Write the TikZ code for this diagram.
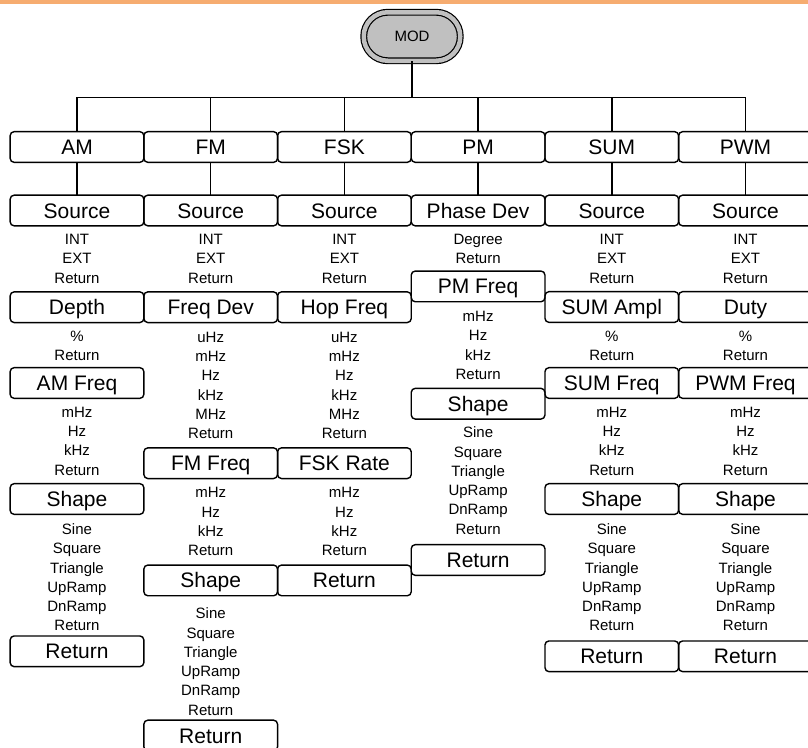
\documentclass[tikz,border=0pt]{standalone}
\usepackage{fontspec}
\setmainfont{Liberation Sans}
\definecolor{orangeline}{RGB}{246,172,112}
\definecolor{modgray}{RGB}{192,192,192}
\newcommand\optlist[4]{%
  \foreach \t [count=\i] in {#4} \node[sub] (#1\i) at (#2,{#3+5.4+19.3*(\i-1)}) {\t};}
\begin{document}
\begin{tikzpicture}[x=1pt,y=-1pt,
  box/.style={draw, line width=1.4pt, rounded corners=4pt, minimum width=133.7pt,
    minimum height=30.7pt, inner sep=0pt, outer sep=0pt, text height=15pt, text depth=0pt,
    font=\fontsize{21}{25}\selectfont},
  sub/.style={anchor=base, inner sep=0pt, font=\fontsize{15}{18}\selectfont},
  conn/.style={line width=1.4pt},
  modbox/.style={draw, line width=1.2pt, double=modgray, double distance=4.5pt,
    fill=modgray, rounded corners=24pt, minimum width=96.5pt, minimum height=48.5pt,
    inner sep=0pt, font=\fontsize{15}{18}\selectfont}]
\clip (0,0) rectangle (808,747);
\fill[orangeline] (0,0) rectangle (808,4);
% root
\node[modbox] (mod) at (412,36.5) {MOD};
\coordinate (bus) at (412,97.5);
% top row
\node[box] (am)  at (77,147)    {AM};
\node[box] (fm)  at (210.7,147) {FM};
\node[box] (fsk) at (344.4,147) {FSK};
\node[box] (pm)  at (478.1,147) {PM};
\node[box] (sum) at (611.8,147) {SUM};
\node[box] (pwm) at (745.5,147) {PWM};
\draw[conn] (mod.south) -- (bus);
\draw[conn] (am.north) -- (am.north |- bus) -- (pwm.north |- bus) -- (pwm.north);
\foreach \n in {fm,fsk,pm,sum} \draw[conn] (\n.north) -- (\n.north |- bus);
% AM column
\node[box] (amsrc) at (77,210.5) {Source};
\optlist{amA}{77}{239}{INT,EXT,Return}
\node[box] (amdep) at (77,307.2) {Depth};
\optlist{amB}{77}{335.7}{\%,Return}
\node[box] (amfrq) at (77,383) {AM Freq};
\optlist{amC}{77}{411.7}{mHz,Hz,kHz,Return}
\node[box] (amshp) at (77,499) {Shape};
\optlist{amD}{77}{529}{Sine,Square,Triangle,UpRamp,DnRamp,Return}
\node[box] (amret) at (77,651.3) {Return};
% FM column
\node[box] (fmsrc) at (210.7,210.5) {Source};
\optlist{fmA}{210.7}{239}{INT,EXT,Return}
\node[box] (fmdev) at (210.7,307.2) {Freq Dev};
\optlist{fmB}{210.7}{336.7}{uHz,mHz,Hz,kHz,MHz,Return}
\node[box] (fmfrq) at (210.7,463.2) {FM Freq};
\optlist{fmC}{210.7}{492.3}{mHz,Hz,kHz,Return}
\node[box] (fmshp) at (210.7,580.4) {Shape};
\optlist{fmD}{210.7}{613.3}{Sine,Square,Triangle,UpRamp,DnRamp,Return}
\node[box] (fmret) at (210.7,735.5) {Return};
% FSK column
\node[box] (fsksrc) at (344.4,210.5) {Source};
\optlist{fskA}{344.4}{239}{INT,EXT,Return}
\node[box] (fskhop) at (344.4,307.2) {Hop Freq};
\optlist{fskB}{344.4}{336.7}{uHz,mHz,Hz,kHz,MHz,Return}
\node[box] (fskrate) at (344.4,463.2) {FSK Rate};
\optlist{fskC}{344.4}{492.3}{mHz,Hz,kHz,Return}
\node[box] (fskret) at (344.4,580.4) {Return};
% PM column
\node[box] (pmdev) at (478.1,210.5) {Phase Dev};
\optlist{pmA}{478.1}{239}{Degree,Return}
\node[box] (pmfrq) at (478.1,286.4) {PM Freq};
\optlist{pmB}{478.1}{316}{mHz,Hz,kHz,Return}
\node[box] (pmshp) at (478.1,403.7) {Shape};
\optlist{pmC}{478.1}{432.3}{Sine,Square,Triangle,UpRamp,DnRamp,Return}
\node[box] (pmret) at (478.1,560) {Return};
% SUM column
\node[box] (sumsrc) at (611.8,210.5) {Source};
\optlist{sumA}{611.8}{239}{INT,EXT,Return}
\node[box] (sumamp) at (611.8,307) {SUM Ampl};
\optlist{sumB}{611.8}{335.7}{\%,Return}
\node[box] (sumfrq) at (611.8,383) {SUM Freq};
\optlist{sumC}{611.8}{411.7}{mHz,Hz,kHz,Return}
\node[box] (sumshp) at (611.8,499) {Shape};
\optlist{sumD}{611.8}{529}{Sine,Square,Triangle,UpRamp,DnRamp,Return}
\node[box] (sumret) at (611.8,656.3) {Return};
% PWM column
\node[box] (pwmsrc) at (745.5,210.5) {Source};
\optlist{pwmA}{745.5}{239}{INT,EXT,Return}
\node[box] (pwmduty) at (745.5,307) {Duty};
\optlist{pwmB}{745.5}{335.7}{\%,Return}
\node[box] (pwmfrq) at (745.5,383) {PWM Freq};
\optlist{pwmC}{745.5}{411.7}{mHz,Hz,kHz,Return}
\node[box] (pwmshp) at (745.5,499) {Shape};
\optlist{pwmD}{745.5}{529}{Sine,Square,Triangle,UpRamp,DnRamp,Return}
\node[box] (pwmret) at (745.5,656.3) {Return};
% links from top row
\draw[conn] (am) -- (amsrc);
\draw[conn] (fm) -- (fmsrc);
\draw[conn] (fsk) -- (fsksrc);
\draw[conn] (pm) -- (pmdev);
\draw[conn] (sum) -- (sumsrc);
\draw[conn] (pwm) -- (pwmsrc);
\end{tikzpicture}
\end{document}
